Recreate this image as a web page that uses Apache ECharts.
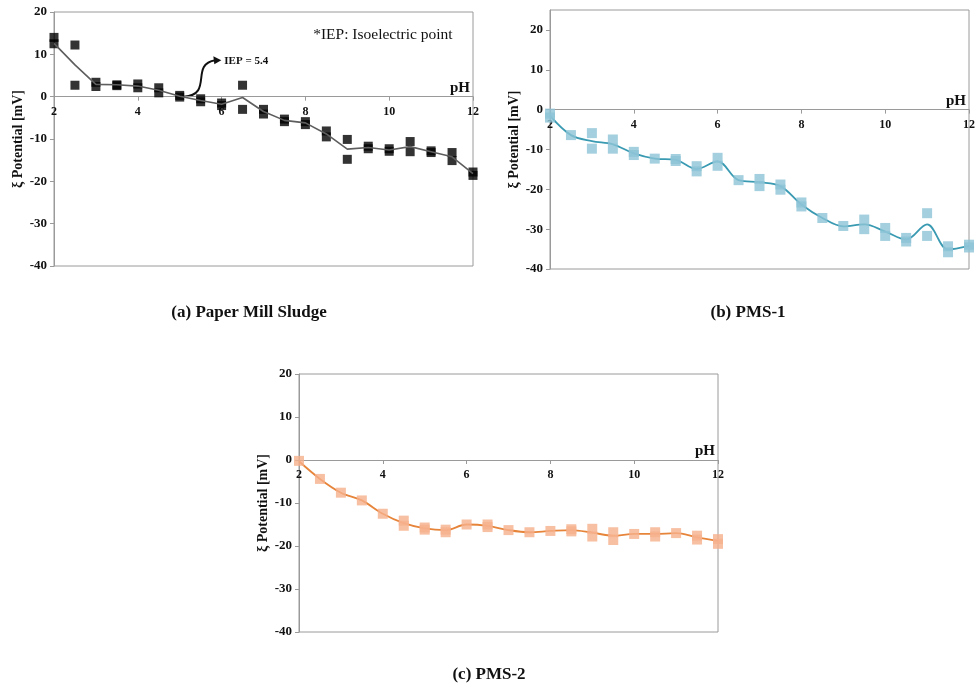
<!DOCTYPE html>
<html lang="en">
<head>
    <meta charset="UTF-8" />
    <title>Zeta potential vs pH</title>
</head>
<body style="margin:0">
<div id="main" style="width: 978px; height: 691px"></div>
<script src="https://cdn.jsdelivr.net/npm/echarts@6.0.0/dist/echarts.min.js"></script>
<script>
  // pH steps used by the trend lines
  var phSteps = [2, 2.5, 3, 3.5, 4, 4.5, 5, 5.5, 6, 6.5, 7, 7.5, 8, 8.5, 9, 9.5, 10, 10.5, 11, 11.5, 12];

  // (a) Paper Mill Sludge - measured points [pH, mV] and trend line
  var sludgePoints = [[2,14],[2,12.5],[2.5,12.2],[2.5,2.7],[3,3.4],[3,2.4],[3.5,2.8],[3.5,2.6],[4,3.0],[4,2.1],
    [4.5,2.1],[4.5,0.9],[5,0.3],[5,-0.1],[5.5,-0.5],[5.5,-1.2],[6,-1.5],[6,-2.1],[6.5,2.7],[6.5,-3.0],
    [7,-3.0],[7,-4.1],[7.5,-5.3],[7.5,-5.9],[8,-5.9],[8,-6.6],[8.5,-8.1],[8.5,-9.5],[9,-10.1],[9,-14.8],
    [9.5,-11.7],[9.5,-12.3],[10,-12.3],[10,-12.9],[10.5,-10.6],[10.5,-13.0],[11,-12.8],[11,-13.2],
    [11.5,-13.2],[11.5,-15.1],[12,-17.8],[12,-18.6]];
  var sludgeLine = [12.6, 7.5, 2.9, 2.8, 2.5, 1.5, 0.1, -0.9, -1.8, -0.2, -3.5, -5.6, -6.2, -8.8, -12.4, -12.0, -12.6, -11.8, -13.0, -14.2, -18.2];

  // (b) PMS-1
  var pms1Points = [[2,-1.0],[2,-2.0],[2.5,-6.4],[3,-5.9],[3,-9.8],[3.5,-7.5],[3.5,-9.8],[4,-10.6],[4,-11.4],
    [4.5,-12.3],[5,-12.4],[5,-12.9],[5.5,-14.2],[5.5,-15.5],[6,-12.1],[6,-14.1],[6.5,-17.7],[7,-17.4],[7,-19.2],
    [7.5,-18.8],[7.5,-20.1],[8,-23.3],[8,-24.3],[8.5,-27.2],[9,-29.2],[9.5,-27.6],[9.5,-30.0],[10,-29.7],
    [10,-31.7],[10.5,-32.2],[10.5,-33.1],[11,-26.0],[11,-31.7],[11.5,-34.3],[11.5,-35.8],[12,-33.9],[12,-34.6]];
  var pms1Line = [-1.5, -6.4, -7.9, -8.7, -11.0, -12.3, -12.6, -14.9, -13.0, -17.7, -18.2, -19.2, -23.8, -27.2, -29.3, -28.8, -30.6, -32.6, -28.8, -35.1, -34.2];

  // (c) PMS-2
  var pms2Points = [[2,-0.2],[2.5,-4.4],[3,-7.6],[3.5,-9.4],[4,-12.5],[4.5,-14.1],[4.5,-15.3],[5,-15.7],[5,-16.2],
    [5.5,-16.2],[5.5,-16.8],[6,-15.0],[6.5,-15.0],[6.5,-15.6],[7,-16.3],[7.5,-16.8],[8,-16.5],[8.5,-16.1],[8.5,-16.6],
    [9,-16.0],[9,-17.8],[9.5,-16.8],[9.5,-18.6],[10,-17.2],[10.5,-16.8],[10.5,-17.8],[11,-17.0],[11.5,-17.6],
    [11.5,-18.5],[12,-18.4],[12,-19.5]];
  var pms2Line = [-0.3, -4.4, -7.6, -9.4, -12.5, -14.7, -15.9, -16.3, -15.0, -15.3, -16.3, -16.8, -16.5, -16.3, -16.9, -17.6, -17.2, -17.2, -17.0, -18.0, -18.8];

  var captions = ["(a) Paper Mill Sludge", "(b) PMS-1", "(c) PMS-2"];
  var yMin = -40;
  var yMax = [20, 25, 20];

  var serif = "'Liberation Serif', 'Times New Roman', serif";
  var grids = [
    { left: 54, top: 12, width: 419, height: 254 },
    { left: 550, top: 10, width: 419, height: 259 },
    { left: 299, top: 374, width: 419, height: 258 }
  ];
  var myChart = echarts.init(document.getElementById("main"));

  function pairs(values) {
    return phSteps.map(function (p, i) { return [p, values[i]]; });
  }

  function makeX(i) {
    // x axis sits on the zero line, labels go with it
    var lift = grids[i].height * (0 - yMin) / (yMax[i] - yMin);
    return {
      type: "value", gridIndex: i, min: 2, max: 12, interval: 2, position: "bottom", offset: -lift,
      name: "pH", nameLocation: "end", nameGap: -3,
      nameTextStyle: { fontFamily: serif, fontWeight: "bold", fontSize: 15, color: "#111", align: "right", verticalAlign: "bottom", padding: [0, 0, 1, 0] },
      axisLine: { onZero: false, lineStyle: { color: "#9a9a9a" } },
      axisTick: { length: 4, lineStyle: { color: "#9a9a9a" } },
      axisLabel: { fontFamily: serif, fontWeight: "bold", fontSize: 12, color: "#111", margin: 9 },
      splitLine: { show: false }
    };
  }
  function makeY(i) {
    return {
      type: "value", gridIndex: i, min: yMin, max: yMax[i], interval: 10,
      name: "ξ Potential [mV]", nameLocation: "middle", nameGap: 29,
      nameTextStyle: { fontFamily: serif, fontWeight: "bold", fontSize: 14, color: "#111" },
      axisLine: { show: true, onZero: false, lineStyle: { color: "#9a9a9a" } },
      axisTick: { show: true, length: 4, lineStyle: { color: "#9a9a9a" } },
      axisLabel: { fontFamily: serif, fontWeight: "bold", fontSize: 13, color: "#111", margin: 7, showMaxLabel: yMax[i] === 20 },
      splitLine: { show: false }
    };
  }

  var option = {
    animation: false,
    backgroundColor: "#fff",
    grid: grids.map(function (g) {
      return Object.assign({ show: true, borderColor: "#9a9a9a", borderWidth: 1 }, g);
    }),
    xAxis: [makeX(0), makeX(1), makeX(2)],
    yAxis: [makeY(0), makeY(1), makeY(2)],
    series: [
      { type: "scatter", xAxisIndex: 0, yAxisIndex: 0, symbol: "rect", symbolSize: 9,
        itemStyle: { color: "#000" }, data: sludgePoints, z: 2 },
      { type: "line", xAxisIndex: 0, yAxisIndex: 0, showSymbol: false, symbol: "none",
        lineStyle: { color: "#5e5e5e", width: 1.6 }, data: pairs(sludgeLine), z: 3 },
      { type: "line", xAxisIndex: 1, yAxisIndex: 1, showSymbol: false, symbol: "none", smooth: 0.35,
        lineStyle: { color: "#3a9ab2", width: 1.8 }, data: pairs(pms1Line), z: 2 },
      { type: "scatter", xAxisIndex: 1, yAxisIndex: 1, symbol: "rect", symbolSize: 10,
        itemStyle: { color: "#8cc3d6" }, data: pms1Points, z: 3 },
      { type: "line", xAxisIndex: 2, yAxisIndex: 2, showSymbol: false, symbol: "none", smooth: 0.35,
        lineStyle: { color: "#e6843a", width: 1.8 }, data: pairs(pms2Line), z: 2 },
      { type: "scatter", xAxisIndex: 2, yAxisIndex: 2, symbol: "rect", symbolSize: 10,
        itemStyle: { color: "#f6b08c" }, data: pms2Points, z: 3 }
    ]
  };
  myChart.setOption(option);

  // captions and the IEP annotation, placed from the axes
  var capStyle = { fontFamily: serif, fontWeight: "bold", fontSize: 17, fill: "#111", textAlign: "center", textVerticalAlign: "middle" };
  var p0 = myChart.convertToPixel({ gridIndex: 0 }, [5.1, 0]);
  var p1 = myChart.convertToPixel({ gridIndex: 0 }, [5.85, 8.6]);
  var note = myChart.convertToPixel({ gridIndex: 0 }, [9.85, 14.7]);
  myChart.setOption({
    graphic: [
      { type: "text", x: 249, y: 313, style: Object.assign({ text: captions[0] }, capStyle) },
      { type: "text", x: 748, y: 313, style: Object.assign({ text: captions[1] }, capStyle) },
      { type: "text", x: 489, y: 675, style: Object.assign({ text: captions[2] }, capStyle) },
      { type: "bezierCurve", shape: { x1: p0[0], y1: p0[1], cpx1: p0[0] + 30, cpy1: p0[1] - 2, cpx2: p1[0] - 26, cpy2: p1[1] + 4, x2: p1[0], y2: p1[1] },
        style: { stroke: "#111", lineWidth: 2, fill: null } },
      { type: "polygon", shape: { points: [[p1[0] + 6, p1[1]], [p1[0] - 2, p1[1] - 4], [p1[0] - 1, p1[1] + 4]] },
        style: { fill: "#111" } },
      { type: "text", x: p1[0] + 9, y: p1[1] + 1, style: { text: "IEP = 5.4", fontFamily: serif, fontWeight: "bold", fontSize: 11, fill: "#111", textVerticalAlign: "middle" } },
      { type: "text", x: note[0], y: note[1], style: { text: "*IEP: Isoelectric point", fontFamily: serif, fontSize: 15.5, fill: "#111", textAlign: "center", textVerticalAlign: "middle" } }
    ]
  });
</script>
</body>
</html>
